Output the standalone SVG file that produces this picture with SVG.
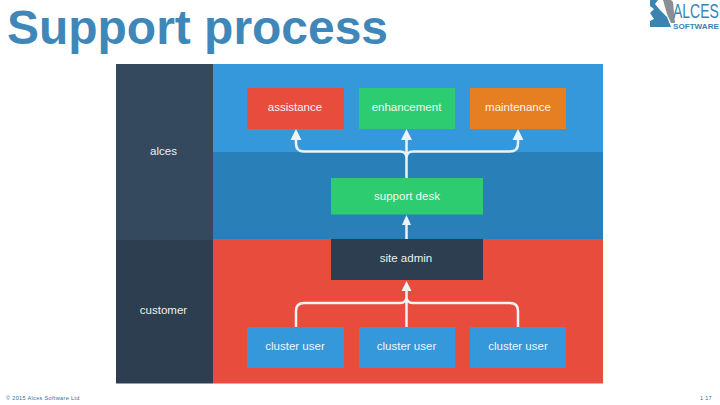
<svg xmlns="http://www.w3.org/2000/svg" width="720" height="405" viewBox="0 0 720 405">
<style>
text{font-family:"Liberation Sans",Arial,sans-serif}
.l{font-size:11.5px;fill:#fff;text-anchor:middle;opacity:.92}
.c{fill:none;stroke:#ecf3f8;stroke-width:2.5}
.h{fill:#ecf3f8}
</style>
<rect width="720" height="405" fill="#fff"/>
<text x="7" y="43.500" font-size="48" font-weight="700" fill="#3f87b8" textLength="381" lengthAdjust="spacingAndGlyphs">Support process</text>
<g id="logo">
<path d="M650 0H658L655 4L660 10L667 17L671 27H650V21L654 19L650 13L654 9L650 6Z" fill="#3b84b2"/>
<path d="M663 0H671L673 2L675 23H671L667 14Z" fill="#8a8f96"/>
<text transform="translate(673 18.300) scale(.7 1)" font-size="20" fill="#3b84b2">ALCES</text>
<text transform="translate(673 28.500) scale(1.25 1)" font-size="6.500" font-weight="700" fill="#3b84b2">SOFTWARE</text>
</g>
<rect x="116" y="64" width="97" height="176" fill="#34495e"/>
<rect x="116" y="240" width="97" height="143.500" fill="#2c3e50"/>
<rect x="213" y="64" width="390" height="88" fill="#3498db"/>
<rect x="213" y="152" width="390" height="88" fill="#2980b9"/>
<rect x="213" y="239" width="390" height="144.500" fill="#e74c3c"/>
<text class="l" x="163.500" y="155">alces</text>
<text class="l" x="163.500" y="314">customer</text>
<g id="connectors">
<path class="c" d="M406.500 178V138M406.500 158Q406.500 151.500 400 151.500H304Q296 151.500 296 143.500V138M406.500 158Q406.500 151.500 413 151.500H510Q518 151.500 518 143.500V138"/>
<path class="c" d="M406.500 239V222"/>
<path class="c" d="M406.500 327V288M296 327V311Q296 303 304 303H400Q406.500 303 406.500 297M518 327V311Q518 303 510 303H413Q406.500 303 406.500 297"/>
<path class="h" d="M296 129L301.500 140H290.500ZM406.500 129L412 140H401ZM518 129L523.500 140H512.500ZM406.500 215L411 225H402ZM406.500 281L411.500 291H401.500Z"/>
</g>
<g id="assistance"><rect x="247" y="88" width="97" height="41" fill="#e74c3c"/><text class="l" x="295" y="111">assistance</text></g>
<g id="enhancement"><rect x="359" y="88" width="96" height="41" fill="#2ecc71"/><text class="l" x="406.500" y="111">enhancement</text></g>
<g id="maintenance"><rect x="470" y="88" width="96" height="41" fill="#e67e22"/><text class="l" x="518" y="111">maintenance</text></g>
<g id="support-desk"><rect x="331" y="178" width="152" height="36.500" fill="#2ecc71"/><text class="l" x="407" y="200">support desk</text></g>
<g id="site-admin"><rect x="331" y="239" width="152" height="41" fill="#2c3e50"/><text class="l" x="406" y="262">site admin</text></g>
<g id="cluster-user-1"><rect x="247" y="327" width="97" height="41" fill="#3498db"/><text class="l" x="295" y="350">cluster user</text></g>
<g id="cluster-user-2"><rect x="359" y="327" width="96" height="41" fill="#3498db"/><text class="l" x="406.500" y="350">cluster user</text></g>
<g id="cluster-user-3"><rect x="470" y="327" width="96" height="41" fill="#3498db"/><text class="l" x="518" y="350">cluster user</text></g>
<text x="6" y="400" font-size="5.500" fill="#2f6f9c" letter-spacing=".35">© 2015 Alces Software Ltd</text>
<text x="700" y="400" font-size="5.500" fill="#2f6f9c" letter-spacing=".3">1 17</text>
</svg>
